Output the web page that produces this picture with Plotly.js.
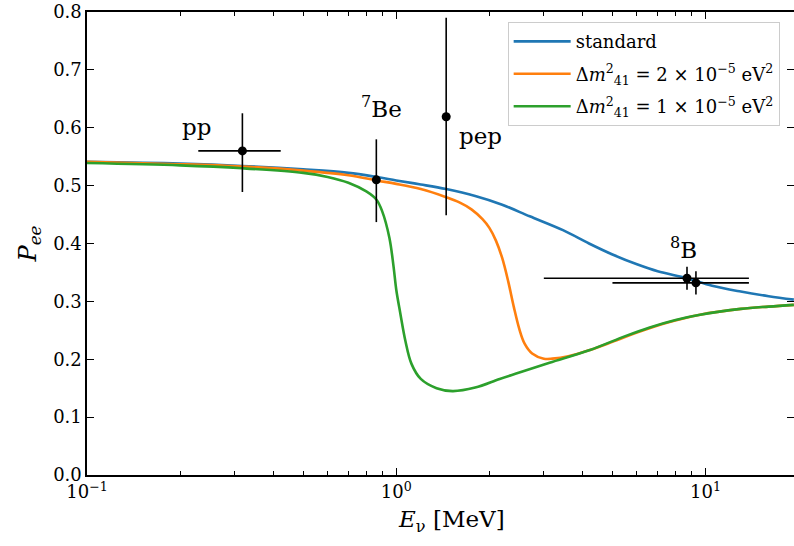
<!DOCTYPE html>
<html>
<head>
<meta charset="utf-8">
<script src="https://cdn.plot.ly/plotly-3.0.1.min.js"></script>
<style>html,body{margin:0;padding:0;background:#fff}#chart{width:794px;height:546px}</style>
</head>
<body>
<div id="chart"></div>
<script>
// Standard (blue) curve
const stdE = [0.1, 0.2, 0.318, 0.5, 0.7, 0.862, 1.0, 1.2, 1.45, 1.8, 2.2, 2.7, 3.46, 4.2, 5.0, 6.0, 7.0, 8.7, 10.5, 13.0, 16.0, 19.3];
const stdP = [0.541, 0.538, 0.534, 0.528, 0.522, 0.515, 0.509, 0.502, 0.494, 0.482, 0.467, 0.447, 0.423, 0.400, 0.381, 0.364, 0.352, 0.340, 0.327, 0.317, 0.309, 0.303];

// Δm²41 = 2e-5 (orange)
const m2E = [0.1, 0.2, 0.318, 0.5, 0.7, 0.862, 1.0, 1.2, 1.45, 1.6, 1.75, 1.9, 2.0, 2.1, 2.2, 2.3, 2.4, 2.5, 2.6, 2.75, 3.0, 3.2, 3.6, 4.23, 5.0, 6.0, 7.5, 9.6, 13.0, 16.0, 19.3];
const m2P = [0.541, 0.537, 0.533, 0.526, 0.518, 0.509, 0.503, 0.494, 0.480, 0.471, 0.459, 0.442, 0.427, 0.405, 0.375, 0.335, 0.290, 0.252, 0.227, 0.210, 0.201, 0.201, 0.205, 0.216, 0.230, 0.246, 0.263, 0.277, 0.287, 0.291, 0.294];

// Δm²41 = 1e-5 (green)
const m1E = [0.1, 0.2, 0.318, 0.5, 0.6, 0.7, 0.8, 0.862, 0.9, 0.95, 0.98, 1.0, 1.03, 1.07, 1.12, 1.2, 1.35, 1.52, 1.8, 2.16, 2.5, 3.13, 4.23, 5.5, 6.6, 8.0, 9.6, 13.0, 16.0, 19.3];
const m1P = [0.539, 0.535, 0.530, 0.522, 0.515, 0.505, 0.490, 0.476, 0.456, 0.410, 0.360, 0.320, 0.280, 0.232, 0.192, 0.166, 0.150, 0.145, 0.151, 0.166, 0.177, 0.194, 0.216, 0.240, 0.255, 0.268, 0.277, 0.287, 0.291, 0.294];

// Measurements
const ptLabels = ["pp", "7Be", "pep", "8B", "8B"];
const ptE = [0.318, 0.862, 1.45, 8.71, 9.31];
const ptP = [0.560, 0.510, 0.619, 0.340, 0.332];
const ptErrPlus = [0.065, 0.070, 0.171, 0.020, 0.020];
const ptErrMinus = [0.071, 0.073, 0.170, 0.020, 0.020];
const ptEPlus = [0.105, 0, 0, 5.1, 4.5];
const ptEMinus = [0.089, 0, 0, 5.71, 4.31];

const xTickVals = [0.1, 1, 10];
const xTickText = ["10<sup>−1</sup>", "10<sup>0</sup>", "10<sup>1</sup>"];
const xMinorVals = [0.2, 0.3, 0.4, 0.5, 0.6, 0.7, 0.8, 0.9, 2, 3, 4, 5, 6, 7, 8, 9];
const yTickVals = [0, 0.1, 0.2, 0.3, 0.4, 0.5, 0.6, 0.7, 0.8];

const serif = "'DejaVu Serif', serif";

const traces = [
  {x: stdE, y: stdP, mode: "lines", legendgroup: "a", line: {color: "#1f77b4", width: 2.6, shape: "spline"}, name: "standard"},
  {x: m2E, y: m2P, mode: "lines", legendgroup: "b", line: {color: "#ff7f0e", width: 2.6, shape: "spline"}, name: "Δ<i>m</i><sup>2</sup><sub>41</sub> = 2 × 10<sup>−5</sup> eV<sup>2</sup>"},
  {x: m1E, y: m1P, mode: "lines", legendgroup: "c", line: {color: "#2ca02c", width: 2.6, shape: "spline"}, name: "Δ<i>m</i><sup>2</sup><sub>41</sub> = 1 × 10<sup>−5</sup> eV<sup>2</sup>"},
  {x: ptE, y: ptP, mode: "markers", showlegend: false,
   marker: {color: "black", size: 9},
   error_y: {type: "data", symmetric: false, array: ptErrPlus, arrayminus: ptErrMinus, color: "black", thickness: 1.6, width: 0},
   error_x: {type: "data", symmetric: false, array: ptEPlus, arrayminus: ptEMinus, color: "black", thickness: 1.6, width: 0}}
];

const layout = {
  width: 794, height: 546,
  margin: {l: 87, r: 0, t: 12, b: 71},
  paper_bgcolor: "white", plot_bgcolor: "white",
  font: {family: serif, color: "black", size: 18},
  showlegend: true,
  legend: {x: 0.595, y: 0.978, xanchor: "left", yanchor: "top", bgcolor: "rgba(255,255,255,0.9)",
           bordercolor: "#cccccc", borderwidth: 1, font: {family: serif, size: 18}, tracegroupgap: 6,
           itemwidth: 57},
  xaxis: {type: "log", range: [-1, 1.286], showline: true, linecolor: "black", linewidth: 1.6,
          mirror: "ticks", ticks: "inside", ticklen: 7, tickwidth: 1.2, tickcolor: "black",
          tickvals: xTickVals, ticktext: xTickText, showgrid: false, zeroline: false,
          minor: {tickvals: xMinorVals, ticks: "inside", ticklen: 4, tickwidth: 1, tickcolor: "black", showgrid: false},
          tickfont: {size: 18, family: serif}},
  yaxis: {range: [0, 0.8], showline: true, linecolor: "black", linewidth: 1.6,
          mirror: "ticks", ticks: "inside", ticklen: 7, tickwidth: 1.2, tickcolor: "black",
          tickvals: yTickVals, tickformat: ".1f", showgrid: false, zeroline: false,
          tickfont: {size: 18, family: serif},
          title: {text: "<i>P</i><sub><i>ee</i></sub>", font: {size: 24, family: serif}, standoff: 10}},
  annotations: [
    {x: 0.515, y: -0.099, xref: "paper", yref: "paper", xanchor: "center", yanchor: "middle", text: "<i>E</i><sub>ν</sub> [MeV]", showarrow: false, font: {size: 23, family: serif}},
    {x: Math.log10(0.226), y: 0.602, xref: "x", yref: "y", text: "pp", showarrow: false, font: {size: 23, family: serif}},
    {x: Math.log10(0.895), y: 0.636, xref: "x", yref: "y", text: "<sup>7</sup>Be", showarrow: false, font: {size: 23, family: serif}},
    {x: Math.log10(1.87), y: 0.586, xref: "x", yref: "y", text: "pep", showarrow: false, font: {size: 23, family: serif}},
    {x: Math.log10(8.5), y: 0.393, xref: "x", yref: "y", text: "<sup>8</sup>B", showarrow: false, font: {size: 23, family: serif}}
  ]
};

Plotly.newPlot("chart", traces, layout, {displayModeBar: false, staticPlot: true});
</script>
</body>
</html>
